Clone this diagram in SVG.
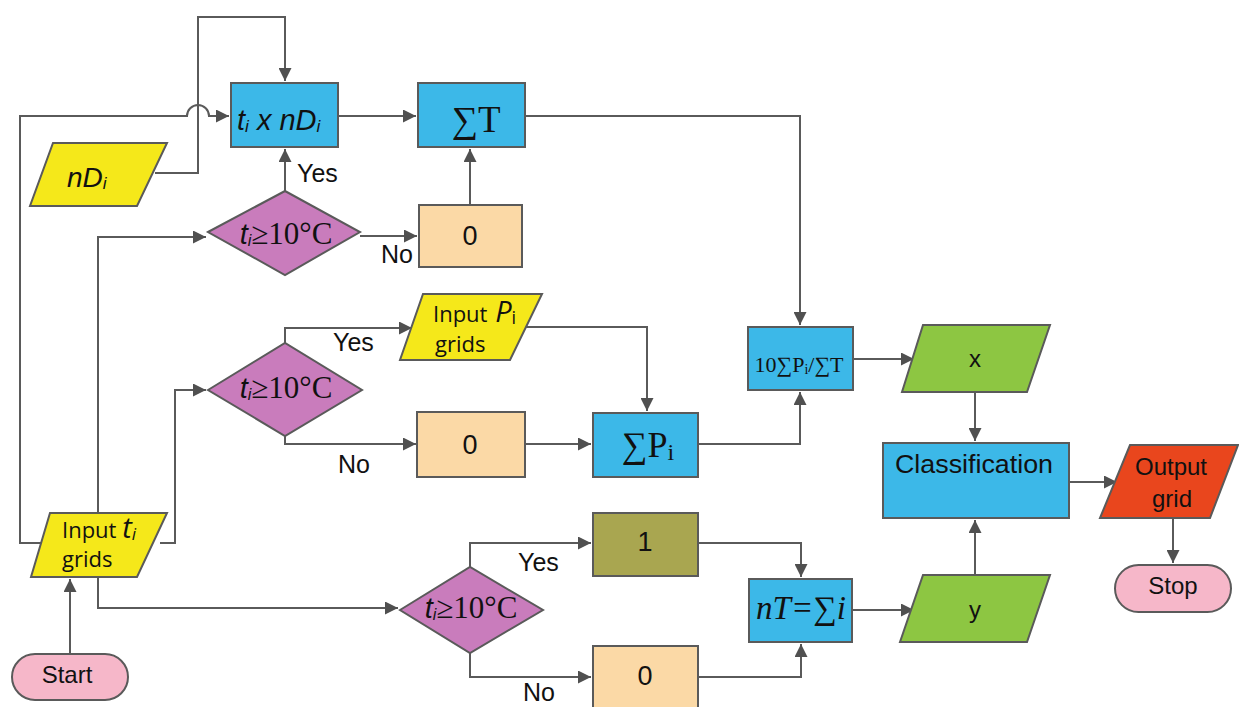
<svg xmlns="http://www.w3.org/2000/svg" width="1239" height="707" viewBox="0 0 1239 707">
<defs>
<marker id="ah" viewBox="0 0 12 12" refX="12" refY="6" markerWidth="13" markerHeight="13" markerUnits="userSpaceOnUse" orient="auto">
<path d="M0,0 L12,6 L0,12 Z" fill="#505050"/>
</marker>
<style>
.c{fill:none;stroke:#5a5a5a;stroke-width:2}
.n{stroke:#5a5a5a;stroke-width:2}
.blue{fill:#3cb8e8}
.yel{fill:#f5e81a}
.mag{fill:#c97cbc}
.pch{fill:#fbd9a6}
.olv{fill:#a9a650}
.grn{fill:#8dc642}
.red{fill:#e9461d}
.pnk{fill:#f6b7c9}
.s{font-family:"Liberation Sans",Arial,sans-serif;font-size:24px;fill:#111}
.o{font-family:"Open Sans","Liberation Sans",sans-serif;font-size:22px;fill:#111}
.r{font-family:"Liberation Serif","Times New Roman",serif;fill:#111}
.it{font-style:italic}
</style>
</defs>
<rect width="1239" height="707" fill="#ffffff"/>

<g id="connectors">
<path class="c" d="M155,173 H198 V17 H285 V81" marker-end="url(#ah)"/>
<path class="c" d="M42,543 H20 V116 H187 A11,11 0 0 1 209,116 H229" marker-end="url(#ah)"/>
<path class="c" d="M338,116 H416" marker-end="url(#ah)"/>
<path class="c" d="M285,191 V149" marker-end="url(#ah)"/>
<path class="c" d="M360,236 H417" marker-end="url(#ah)"/>
<path class="c" d="M470,205 V149" marker-end="url(#ah)"/>
<path class="c" d="M525,116 H800 V325" marker-end="url(#ah)"/>
<path class="c" d="M98,513 V237 H206" marker-end="url(#ah)"/>
<path class="c" d="M160,543 H175 V390 H206" marker-end="url(#ah)"/>
<path class="c" d="M285,343 V328 H412" marker-end="url(#ah)"/>
<path class="c" d="M285,436 V444 H416" marker-end="url(#ah)"/>
<path class="c" d="M522,327 H647 V411" marker-end="url(#ah)"/>
<path class="c" d="M525,444 H591" marker-end="url(#ah)"/>
<path class="c" d="M698,444 H800 V392" marker-end="url(#ah)"/>
<path class="c" d="M853,359 H914" marker-end="url(#ah)"/>
<path class="c" d="M975,392 V441" marker-end="url(#ah)"/>
<path class="c" d="M1069,482 H1117" marker-end="url(#ah)"/>
<path class="c" d="M1173,518 V563" marker-end="url(#ah)"/>
<path class="c" d="M70,654 V579" marker-end="url(#ah)"/>
<path class="c" d="M98,575 V608 H398" marker-end="url(#ah)"/>
<path class="c" d="M470,567 V543 H591" marker-end="url(#ah)"/>
<path class="c" d="M470,653 V677 H591" marker-end="url(#ah)"/>
<path class="c" d="M698,543 H801 V577" marker-end="url(#ah)"/>
<path class="c" d="M698,677 H801 V644" marker-end="url(#ah)"/>
<path class="c" d="M852,610 H914" marker-end="url(#ah)"/>
<path class="c" d="M975,575 V520" marker-end="url(#ah)"/>
</g>

<g id="labels">
<text class="s" x="297" y="182" style="font-size:25px">Yes</text>
<text class="s" x="381" y="263" style="font-size:25px">No</text>
<text class="s" x="333" y="351" style="font-size:25px">Yes</text>
<text class="s" x="338" y="473" style="font-size:25px">No</text>
<text class="s" x="518" y="571" style="font-size:25px">Yes</text>
<text class="s" x="523" y="701" style="font-size:25px">No</text>
</g>

<g id="nDi">
<polygon class="n yel" points="53,143 167,143 137,206 30,206"/>
<text class="s it" x="67" y="187" style="font-size:28px">nD<tspan style="font-size:17px" dy="2">i</tspan></text>
</g>

<g id="tixnDi">
<rect class="n blue" x="231" y="83" width="107" height="64"/>
<text class="s it" x="237" y="130" style="font-size:29px">t<tspan style="font-size:17px" dy="2">i</tspan><tspan dy="-2"> x nD</tspan><tspan style="font-size:17px" dy="2">i</tspan></text>
</g>

<g id="sumT">
<rect class="n blue" x="418" y="83" width="107" height="64"/>
<text class="r" x="476" y="132" text-anchor="middle" style="font-size:37px">∑T</text>
</g>

<g id="dec1">
<polygon class="n mag" points="208,232 285,191 360,232 285,275"/>
<text x="286" y="244" text-anchor="middle"><tspan class="s it" style="font-size:29px">t</tspan><tspan class="s it" style="font-size:16px" dy="2">i</tspan><tspan class="r" style="font-size:31px" dy="-2">≥10°C</tspan></text>
</g>

<g id="zero1">
<rect class="n pch" x="419" y="205" width="103" height="62"/>
<text class="s" x="470" y="245" text-anchor="middle" style="font-size:27px">0</text>
</g>

<g id="dec2">
<polygon class="n mag" points="208,390 285,343 362,390 285,436"/>
<text x="286" y="398" text-anchor="middle"><tspan class="s it" style="font-size:29px">t</tspan><tspan class="s it" style="font-size:16px" dy="2">i</tspan><tspan class="r" style="font-size:31px" dy="-2">≥10°C</tspan></text>
</g>

<g id="inputPi">
<polygon class="n yel" points="423,294 542,294 510,360 400,360"/>
<text class="o" x="433" y="322">Input <tspan class="it" style="font-size:29px" dx="2">P</tspan><tspan style="font-size:18px" dy="2">i</tspan></text>
<text class="o" x="435" y="352">grids</text>
</g>

<g id="zero2">
<rect class="n pch" x="417" y="412" width="108" height="65"/>
<text class="s" x="470" y="454" text-anchor="middle" style="font-size:27px">0</text>
</g>

<g id="sumPi">
<rect class="n blue" x="593" y="413" width="105" height="64"/>
<text class="r" x="648" y="457" text-anchor="middle" style="font-size:36px">∑P<tspan style="font-size:24px" dy="3">i</tspan></text>
</g>

<g id="ratio">
<rect class="n blue" x="748" y="327" width="105" height="63"/>
<text class="r" x="799" y="372" text-anchor="middle" style="font-size:22px">10∑P<tspan style="font-size:14px" dy="2">i</tspan><tspan dy="-2">/∑T</tspan></text>
</g>

<g id="x">
<polygon class="n grn" points="923,325 1050,325 1027,392 902,392"/>
<text class="s" x="975" y="367" text-anchor="middle">x</text>
</g>

<g id="classification">
<rect class="n blue" x="883" y="443" width="186" height="75"/>
<text class="s" x="974" y="473" text-anchor="middle" style="font-size:25px" textLength="158" lengthAdjust="spacingAndGlyphs">Classification</text>
</g>

<g id="output">
<polygon class="n red" points="1130,445 1238,445 1210,518 1100,518"/>
<text class="s" x="1171" y="475" text-anchor="middle">Output</text>
<text class="s" x="1172" y="507" text-anchor="middle">grid</text>
</g>

<g id="stop">
<rect class="n pnk" x="1115" y="565" width="116" height="47" rx="23.5"/>
<text class="s" x="1173" y="594" text-anchor="middle">Stop</text>
</g>

<g id="y">
<polygon class="n grn" points="923,575 1050,575 1027,642 900,642"/>
<text class="s" x="975" y="618" text-anchor="middle">y</text>
</g>

<g id="inputti">
<polygon class="n yel" points="50,513 167,513 137,577 31,577"/>
<text class="o" x="62" y="538">Input <tspan class="it" style="font-size:29px">t</tspan><tspan class="it" style="font-size:17px" dy="2">i</tspan></text>
<text class="o" x="62" y="567">grids</text>
</g>

<g id="start">
<rect class="n pnk" x="12" y="654" width="116" height="46" rx="23"/>
<text class="s" x="67" y="683" text-anchor="middle">Start</text>
</g>

<g id="dec3">
<polygon class="n mag" points="400,610 470,567 543,610 470,653"/>
<text x="471" y="618" text-anchor="middle"><tspan class="s it" style="font-size:29px">t</tspan><tspan class="s it" style="font-size:16px" dy="2">i</tspan><tspan class="r" style="font-size:31px" dy="-2">≥10°C</tspan></text>
</g>

<g id="one">
<rect class="n olv" x="593" y="513" width="105" height="63"/>
<text class="s" x="645" y="551" text-anchor="middle" style="font-size:27px">1</text>
</g>

<g id="zero3">
<rect class="n pch" x="593" y="646" width="105" height="70"/>
<text class="s" x="645" y="685" text-anchor="middle" style="font-size:27px">0</text>
</g>

<g id="nT">
<rect class="n blue" x="749" y="579" width="103" height="63"/>
<text class="r it" x="801" y="619" text-anchor="middle" style="font-size:33px">nT=∑i</text>
</g>
</svg>
